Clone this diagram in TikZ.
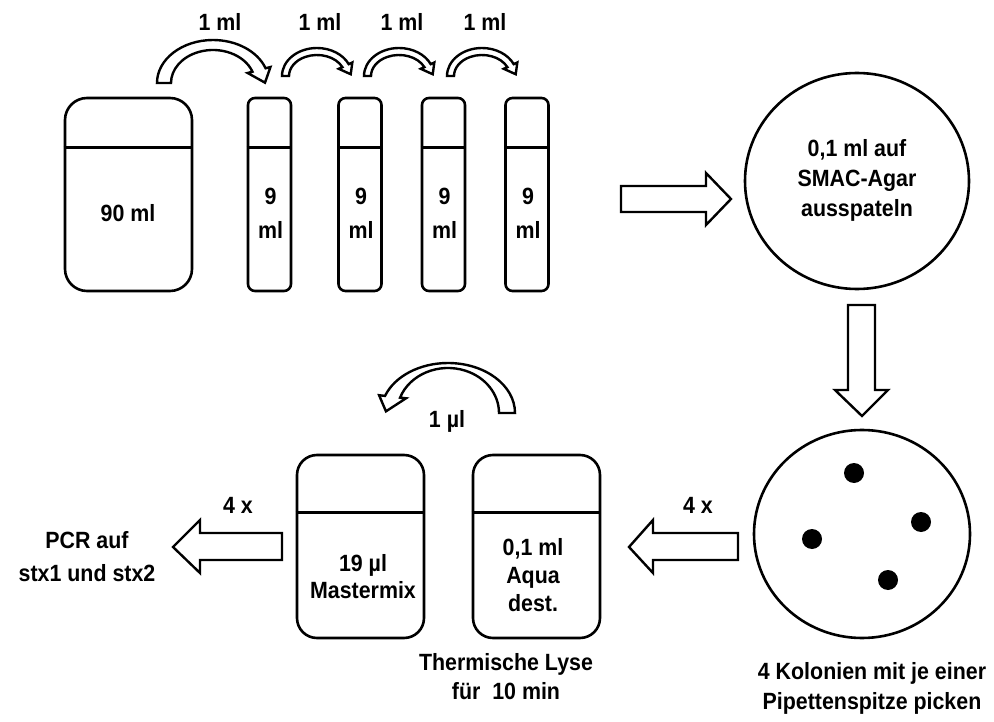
\documentclass[tikz,border=0pt]{standalone}
\usepackage{fontspec}
\setmainfont{Liberation Sans}[FakeStretch=0.91]
\usetikzlibrary{shapes.geometric}
\newcommand{\cAe}{5}
% curved block arrow: #1 xscale, #2 cx, #3 cy, #4 Rx, #5 Ry, #6 rx, #7 ry, #8 end angle, #9 head length
\newcommand{\cArrow}[9]{%
 \begin{scope}[shift={(#2,#3)},xscale=#1,yscale=-1]
 \pgfmathsetmacro{\cAox}{#4*cos(#8)}
 \pgfmathsetmacro{\cAoy}{#5*sin(#8)}
 \pgfmathsetmacro{\cAix}{#6*cos(#8)}
 \pgfmathsetmacro{\cAiy}{#7*sin(#8)}
 \pgfmathsetmacro{\cAdl}{veclen(\cAox-\cAix,\cAoy-\cAiy)}
 \pgfmathsetmacro{\cAux}{(\cAox-\cAix)/\cAdl}
 \pgfmathsetmacro{\cAuy}{(\cAoy-\cAiy)/\cAdl}
 \pgfmathsetmacro{\cAtx}{(#4+#6)/2*sin(#8)}
 \pgfmathsetmacro{\cAty}{-(#5+#7)/2*cos(#8)}
 \pgfmathsetmacro{\cAtl}{veclen(\cAtx,\cAty)}
 \pgfmathsetmacro{\cApx}{(\cAox+\cAix)/2+#9*\cAtx/\cAtl}
 \pgfmathsetmacro{\cApy}{(\cAoy+\cAiy)/2+#9*\cAty/\cAtl}
 \pgfmathsetmacro{\cAwox}{\cAox+\cAe*\cAux}
 \pgfmathsetmacro{\cAwoy}{\cAoy+\cAe*\cAuy}
 \pgfmathsetmacro{\cAwix}{\cAix-\cAe*\cAux}
 \pgfmathsetmacro{\cAwiy}{\cAiy-\cAe*\cAuy}
 \draw[barrow] (-#4,0) arc[start angle=180,end angle=#8,x radius=#4,y radius=#5]
   -- (\cAwox,\cAwoy) -- (\cApx,\cApy) -- (\cAwix,\cAwiy) -- (\cAix,\cAiy)
   arc[start angle=#8,end angle=180,x radius=#6,y radius=#7] -- cycle;
 \end{scope}}
\tikzset{
 outl/.style={draw=black, line width=2.6pt},
 bottle/.style={outl, rounded corners=22pt, minimum width=127pt, minimum height=193pt, inner sep=0pt},
 smallbottle/.style={outl, rounded corners=20pt, minimum width=127pt, minimum height=183pt, inner sep=0pt},
 tubebox/.style={outl, rounded corners=7pt, minimum width=43pt, minimum height=193pt, inner sep=0pt},
 lab/.style={font=\fontsize{23.5}{28}\selectfont\bfseries, align=center, inner sep=0pt},
 barrow/.style={draw=black, fill=white, line width=2.4pt, line join=miter},
 dot/.style={circle, fill=black, minimum size=20pt, inner sep=0pt},
 dish/.style={outl, ellipse, inner sep=0pt}
}
\begin{document}
\begin{tikzpicture}[x=1pt,y=-1pt]
\useasboundingbox (0,0) rectangle (994,722);
\fill[white] (0,0) rectangle (994,722);

% top row containers
\node[bottle] (b90) at (128.5,194.5) {};
\draw[outl] ([yshift=-51pt]b90.north west) -- ([yshift=-51pt]b90.north east);
\node[lab] (b90t) at (128,213) {90 ml};

\foreach \n/\x in {t1/269.5,t2/360,t3/443.5,t4/527}{
  \node[tubebox] (\n) at (\x,194.5) {};
  \draw[outl] ([yshift=-51pt]\n.north west) -- ([yshift=-51pt]\n.north east);
  \node[lab, font=\fontsize{23.5}{34}\selectfont\bfseries] (\n t) at (\x+1,213) {9\\ml};
}

% curved transfer arrows (top)
\renewcommand{\cAe}{5}
\cArrow{1}{213}{83}{56}{43}{42}{33}{20}{14}
\renewcommand{\cAe}{4}
\cArrow{1}{317}{76}{35}{28}{28}{21}{25}{10}
\cArrow{1}{399}{76}{35}{28}{28}{21}{25}{10}
\cArrow{1}{482}{76}{35}{28}{28}{21}{25}{10}
\node[lab] (l1) at (220,22) {1 ml};
\node[lab] (l2) at (320,22) {1 ml};
\node[lab] (l3) at (402,22) {1 ml};
\node[lab] (l4) at (485,22) {1 ml};

% arrow to agar plate
\draw[barrow] (621,186) -- (706,186) -- (706,173) -- (731,199) -- (706,225) -- (706,212) -- (621,212) -- cycle;

% agar plate
\node[dish, minimum width=224pt, minimum height=216pt] (agar) at (857,181) {};
\node[lab, font=\fontsize{23.5}{30}\selectfont\bfseries] (agart) at (857,180) {0,1 ml auf\\SMAC-Agar\\ausspateln};

% down arrow
\draw[barrow] (848,305) -- (875,305) -- (875,390) -- (888,390) -- (862,416) -- (835,390) -- (848,390) -- cycle;

% plate with colonies
\node[dish, minimum width=216pt, minimum height=208pt] (plate) at (862,534) {};
\node[dot] (c1) at (854,473) {};
\node[dot] (c2) at (921,522) {};
\node[dot] (c3) at (812,539) {};
\node[dot] (c4) at (888,580) {};
\node[lab, font=\fontsize{23.5}{30}\selectfont\bfseries] (platet) at (872,688) {4 Kolonien mit je einer\\Pipettenspitze picken};

% left arrow 4x
\draw[barrow] (738,533) -- (653,533) -- (653,520) -- (629,547) -- (653,573) -- (653,560) -- (738,560) -- cycle;
\node[lab] (x4a) at (698,505) {4 x};

% bottom tubes
\node[smallbottle] (aqua) at (536.5,546.5) {};
\draw[outl] ([yshift=-59pt]aqua.north west) -- ([yshift=-59pt]aqua.north east);
\node[lab] (aquat) at (533,575) {0,1 ml\\Aqua\\dest.};
\node[lab, font=\fontsize{23.5}{29}\selectfont\bfseries] (lyse) at (506,676.5) {Thermische Lyse\\für\ \ 10 min};

\node[smallbottle] (mm) at (360.5,546.5) {};
\draw[outl] ([yshift=-59pt]mm.north west) -- ([yshift=-59pt]mm.north east);
\node[lab, font=\fontsize{23.5}{27}\selectfont\bfseries] (mmt) at (363,576.5) {19 µl\\Mastermix};

% 1 µl arrow
\renewcommand{\cAe}{6}
\cArrow{-1}{448}{413}{67}{50}{51}{45}{20}{16}
\node[lab] (lmu) at (447,421) {1 µl};

% PCR arrow
\draw[barrow] (282,533) -- (200,533) -- (200,520) -- (173,547) -- (200,573) -- (200,560) -- (282,560) -- cycle;
\node[lab] (x4b) at (238,505) {4 x};
\node[lab, font=\fontsize{23.5}{33}\selectfont\bfseries] (pcr) at (87,556.5) {PCR auf\\stx1 und stx2};
\end{tikzpicture}
\end{document}
